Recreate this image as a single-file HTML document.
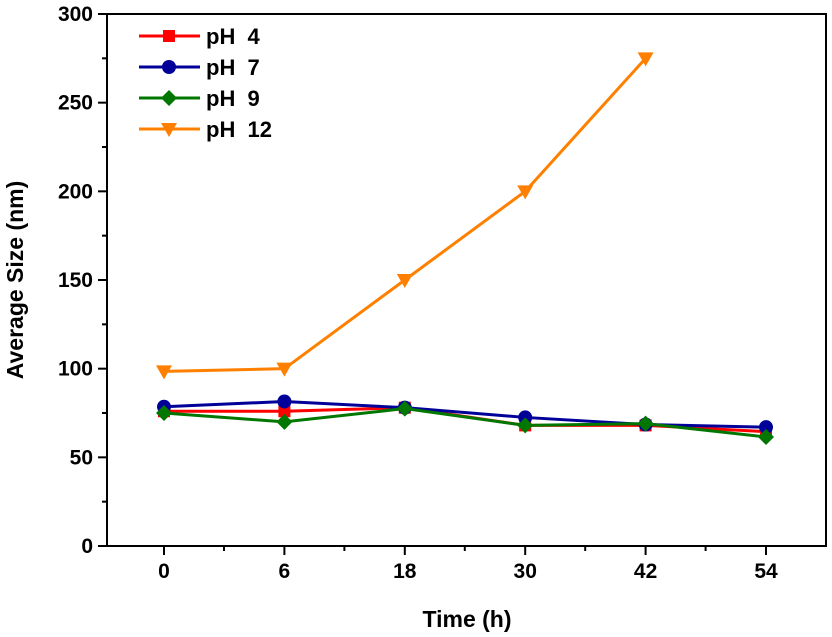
<!DOCTYPE html>
<html><head><meta charset="utf-8"><style>
html,body{margin:0;padding:0;background:#fff}
svg{display:block;font-family:"Liberation Sans",Arial,sans-serif;font-weight:bold}
</style></head><body>
<svg id="c" width="832" height="637" viewBox="0 0 832 637"></svg>
<script>
const categories=["0","6","18","30","42","54"];
const ph4=[76,76,78,68,68,64.5];
const ph7=[78.5,81.5,78,72.5,68.5,67];
const ph9=[75,70,77.5,68,69,61.5];
const ph12=[98.5,100,150,200,275];
const yTicks=[0,50,100,150,200,250,300];
const seriesNames=["pH  4","pH  7","pH  9","pH  12"];
const NS="http://www.w3.org/2000/svg";
const svg=document.getElementById('c');
const L=107,R=826,T=14,B=546;
function xs(i){return 164+i*120.4;}
function ys(v){return B-(v/300)*(B-T);}
function el(tag,a,p){const e=document.createElementNS(NS,tag);for(const k in a)e.setAttribute(k,a[k]);(p||svg).appendChild(e);return e;}
const frame=el('rect',{x:L,y:T,width:R-L,height:B-T,fill:'none',stroke:'#000','stroke-width':2});


for(let v=0;v<=300;v+=25){
  const major=v%50===0;
  const t=el('line',{x1:L,x2:L-(major?9:5),y1:ys(v),y2:ys(v),stroke:'#000','stroke-width':2});
  
  
}
yTicks.forEach(v=>{
  const t=el('text',{x:L-14,y:ys(v)+7,'text-anchor':'end','font-size':21});
  t.textContent=v;
  
  
});
categories.forEach((c,i)=>{
  const t=el('line',{x1:xs(i),x2:xs(i),y1:B,y2:B+9,stroke:'#000','stroke-width':2});
  
  
  if(i<categories.length-1){
    const m=el('line',{x1:xs(i)+60,x2:xs(i)+60,y1:B,y2:B+5,stroke:'#000','stroke-width':2});
    
    
  }
  const l=el('text',{x:xs(i),y:B+32,'text-anchor':'middle','font-size':21});
  l.textContent=c;
  
  
});
const xt=el('text',{x:467,y:627,'text-anchor':'middle','font-size':23});
xt.textContent='Time (h)';


const yt=el('text',{x:0,y:0,'text-anchor':'middle','font-size':23,transform:'translate(23,280) rotate(-90)'});
yt.textContent='Average Size (nm)';


function marker(shape,x,y,color,g){
  let m;
  if(shape==='sq')m=el('rect',{x:x-6,y:y-6,width:12,height:12,fill:color},g);
  else if(shape==='ci')m=el('circle',{cx:x,cy:y,r:7,fill:color},g);
  else if(shape==='di')m=el('polygon',{points:`${x},${y-8} ${x+8},${y} ${x},${y+8} ${x-8},${y}`,fill:color},g);
  else m=el('polygon',{points:`${x-8},${y-6} ${x+8},${y-6} ${x},${y+8}`,fill:color},g);
  
  
}
const series=[[ph4,'#ff0000','sq'],[ph7,'#000099','ci'],[ph9,'#007700','di'],[ph12,'#ff8000','tr']];
series.forEach(([d,col,sh],k)=>{
  const g=el('g',{});
  
  
  const ln=el('polyline',{points:d.map((v,i)=>xs(i)+','+ys(v)).join(' '),fill:'none',stroke:col,'stroke-width':3},g);
  
  
  d.forEach((v,i)=>marker(sh,xs(i),ys(v),col,g));
  const ly=36+k*31;
  const lg=el('g',{});
  
  
  el('line',{x1:139,x2:200,y1:ly,y2:ly,stroke:col,'stroke-width':3},lg);
  marker(sh,169,ly,col,lg);
  const t=el('text',{x:206,y:ly+8,'font-size':22,style:'white-space:pre'},lg);
  t.textContent=seriesNames[k];
});
</script>
</body></html>
